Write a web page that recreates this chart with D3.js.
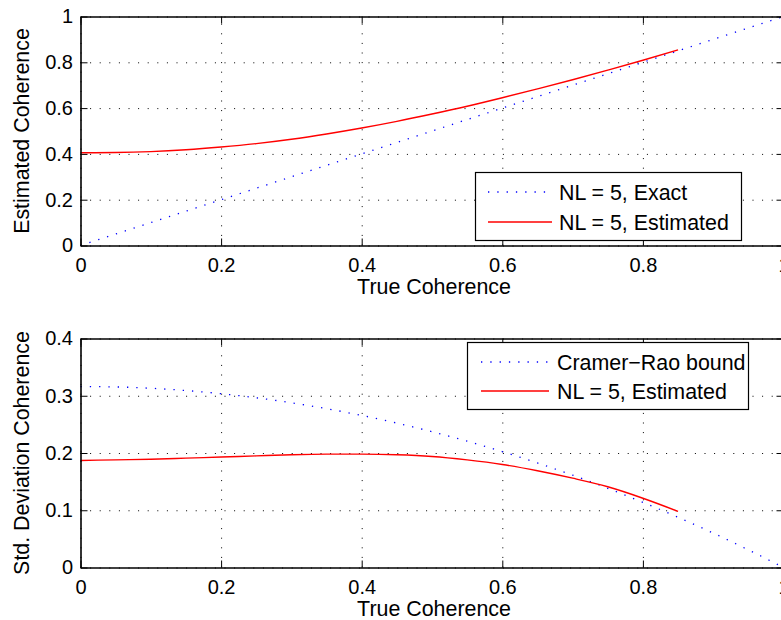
<!DOCTYPE html>
<html>
<head>
<meta charset="utf-8">
<script src="https://cdn.jsdelivr.net/npm/d3@7"></script>
<style>
  html, body { margin: 0; padding: 0; background: #fff; }
  svg { display: block; font-family: "Liberation Sans", Arial, Helvetica, sans-serif; }
  .tick text { font-size: 20px; fill: #000; }
  .axis path, .axis line { stroke: #000; }
  .grid line { stroke: #000; stroke-dasharray: 1 8.6; }
  .grid path { display: none; }
  .lbl { font-size: 21.4px; fill: #000; }
  .leg text { font-size: 21.4px; fill: #000; }
</style>
</head>
<body>
<div id="chart"></div>
<script>
// Верхний график: оценка когерентности
const xTicks = [0, 0.2, 0.4, 0.6, 0.8, 1];
const xExact = [0, 1];
const yExact = [0, 1];
const xEst = [0, 0.05, 0.1, 0.15, 0.2, 0.25, 0.3, 0.35, 0.4, 0.45, 0.5, 0.55, 0.6, 0.65, 0.7, 0.75, 0.8, 0.85];
const yEstMean = [0.405, 0.406, 0.41, 0.418, 0.43, 0.445, 0.464, 0.487, 0.513, 0.542, 0.574, 0.608, 0.645, 0.684, 0.724, 0.766, 0.809, 0.854];
const yTicksTop = [0, 0.2, 0.4, 0.6, 0.8, 1];

// Нижний график: стандартное отклонение
const xCrb = [0, 0.05, 0.1, 0.15, 0.2, 0.25, 0.3, 0.35, 0.4, 0.45, 0.5, 0.55, 0.6, 0.65, 0.7, 0.75, 0.8, 0.85, 0.9, 0.95, 1];
const yCrb = [0.316, 0.3154, 0.3131, 0.3091, 0.3036, 0.2965, 0.2878, 0.2775, 0.2656, 0.2522, 0.2372, 0.2206, 0.2024, 0.1826, 0.1613, 0.1383, 0.1138, 0.0877, 0.0601, 0.0308, 0];
const yEstStd = [0.187, 0.188, 0.189, 0.191, 0.193, 0.195, 0.197, 0.198, 0.198, 0.197, 0.194, 0.188, 0.18, 0.169, 0.156, 0.141, 0.121, 0.098];
const yTicksBot = [0, 0.1, 0.2, 0.3, 0.4];

const width = 781, height = 620;
const svg = d3.select("#chart").append("svg")
    .attr("width", width)
    .attr("height", height);

function drawPanel(opt) {
    const x = d3.scaleLinear().domain([0, 1]).range([80.5, 783.5]);
    const y = d3.scaleLinear().domain(opt.yDomain).range([opt.bottom, opt.top]);
    const g = svg.append("g");
    const h = opt.bottom - opt.top, w = 703;

    // сетка
    g.append("g").attr("class", "grid")
        .attr("transform", `translate(0,${opt.bottom})`)
        .call(d3.axisBottom(x).tickValues(xTicks).tickSize(-h).tickFormat(""));
    g.append("g").attr("class", "grid")
        .attr("transform", "translate(80.5,0)")
        .call(d3.axisLeft(y).tickValues(opt.yTicks).tickSize(-w).tickFormat(""));

    const line = d3.line().curve(d3.curveMonotoneX).x(d => x(d[0])).y(d => y(d[1]));

    opt.series.forEach(s => {
        g.append("path")
            .datum(d3.zip(s.x, s.y))
            .attr("fill", "none")
            .attr("stroke", s.color)
            .attr("stroke-width", s.dotted ? 1.3 : 1.4)
            .attr("stroke-dasharray", s.dotted ? "1.3 8" : null)
            .attr("d", line);
    });

    // оси с тиками внутрь
    const fmt = d => d3.format("~g")(d);
    g.append("g").attr("class", "axis")
        .attr("transform", `translate(0,${opt.bottom})`)
        .call(d3.axisBottom(x).tickValues(xTicks).tickSizeInner(-7).tickSizeOuter(0).tickPadding(12).tickFormat(fmt));
    g.append("g").attr("class", "axis")
        .attr("transform", `translate(0,${opt.top})`)
        .call(d3.axisTop(x).tickValues(xTicks).tickSizeInner(-7).tickSizeOuter(0).tickFormat(""));
    g.append("g").attr("class", "axis")
        .attr("transform", "translate(80.5,0)")
        .call(d3.axisLeft(y).tickValues(opt.yTicks).tickSizeInner(-7).tickSizeOuter(0).tickPadding(7.5).tickFormat(fmt));
    g.append("g").attr("class", "axis")
        .attr("transform", "translate(783.5,0)")
        .call(d3.axisRight(y).tickValues(opt.yTicks).tickSizeInner(-7).tickSizeOuter(0).tickFormat(""));
    g.selectAll(".axis path").attr("stroke-width", 1.6);

    g.append("text").attr("class", "lbl")
        .attr("x", 434).attr("y", opt.bottom + 48)
        .attr("text-anchor", "middle")
        .text("True Coherence");
    g.append("text").attr("class", "lbl")
        .attr("transform", `translate(28.5,${(opt.top + opt.bottom) / 2}) rotate(-90)`)
        .attr("text-anchor", "middle")
        .text(opt.yLabel);

    // легенда
    const L = opt.legend;
    const leg = g.append("g").attr("class", "leg");
    leg.append("rect")
        .attr("x", L.x).attr("y", L.y).attr("width", L.w).attr("height", L.h)
        .attr("fill", "#fff").attr("stroke", "#000").attr("stroke-width", 1.2);
    opt.series.forEach((s, i) => {
        const cy = L.y + L.rowY[i];
        leg.append("line")
            .attr("x1", L.x + L.line[0]).attr("x2", L.x + L.line[1])
            .attr("y1", cy).attr("y2", cy)
            .attr("stroke", s.color)
            .attr("stroke-width", s.dotted ? 1.3 : 1.4)
            .attr("stroke-dasharray", s.dotted ? "1.3 8" : null);
        leg.append("text")
            .attr("x", L.x + L.textX).attr("y", cy + 7.5)
            .text(s.name);
    });
}

drawPanel({
    top: 16.5, bottom: 245.5,
    yDomain: [0, 1], yTicks: yTicksTop,
    yLabel: "Estimated Coherence",
    series: [
        { name: "NL = 5, Exact", x: xExact, y: yExact, color: "#0000ff", dotted: true },
        { name: "NL = 5, Estimated", x: xEst, y: yEstMean, color: "#ff0000", dotted: false }
    ],
    legend: { x: 475.5, y: 172.5, w: 266, h: 68, rowY: [19.5, 49.5], line: [12.5, 76.5], textX: 83.5 }
});

drawPanel({
    top: 338.5, bottom: 567.5,
    yDomain: [0, 0.4], yTicks: yTicksBot,
    yLabel: "Std. Deviation Coherence",
    series: [
        { name: "Cramer\u2212Rao bound", x: xCrb, y: yCrb, color: "#0000ff", dotted: true },
        { name: "NL = 5, Estimated", x: xEst, y: yEstStd, color: "#ff0000", dotted: false }
    ],
    legend: { x: 467.5, y: 342.5, w: 281, h: 67, rowY: [19.5, 48.5], line: [13.5, 81.5], textX: 89.5 }
});
</script>
</body>
</html>
